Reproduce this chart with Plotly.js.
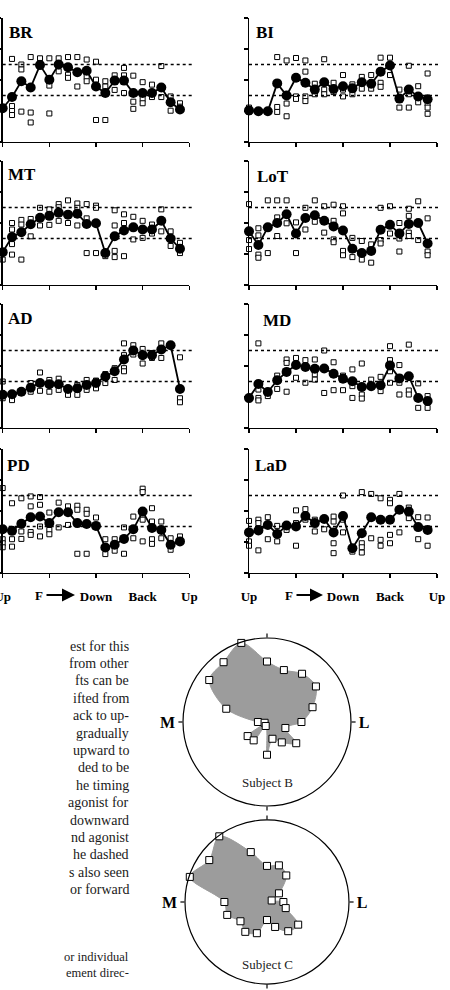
<!DOCTYPE html>
<html>
<head>
<meta charset="utf-8">
<script src="https://cdn.plot.ly/plotly-3.0.1.min.js"></script>
<style>html,body{margin:0;padding:0;background:#fff;}#chart{width:450px;height:990px;}</style>
</head>
<body>
<div id="chart"></div>
<script>
// ---------------- DATA ----------------
const directions = [0,18,36,54,72,90,108,126,144,162,180,198,216,234,252,270,288,306,324,342];
const xTickVals = [0,90,180,270,360];
const xTickLabels = ['Up','','Down','Back','Up'];
const thresholds = [1.5, 2.5];
const muscleNames = ['BR','BI','MT','LoT','AD','MD','PD','LaD'];

const brMean = [1.09,1.45,1.96,1.76,2.48,2.01,2.5,2.41,2.25,2.3,1.79,1.58,1.98,1.98,1.58,1.58,1.58,1.76,1.28,1.05];
const brTrials = [[],[2.68,1.16,1.0,0.87],[2.5,2.34,0.98],[2.74,0.95,0.63],[2.7,2.55],[2.7,1.82,0.92],[2.7,2.28],[2.74,2.17,2.07],[2.74,1.79],[2.66,2.1,1.96],[2.59,2.01,0.71],[1.96,1.79,0.71],[2.15,1.68],[2.39,2.15,1.58],[2.14,1.3,1.07],[1.93,1.39,1.25],[1.85,1.45],[2.45,1.45],[1.47,1.01],[1.25,1.14]];

const biMean = [1.02,0.99,0.99,1.89,1.5,2.07,1.91,1.69,1.93,1.71,1.8,1.73,1.93,1.88,2.27,2.47,1.4,1.69,1.47,1.38];
const biTrials = [[1.11,0.97],[],[],[2.74,1.13,0.97],[2.63,1.24,0.83],[2.71,1.47,1.39],[2.63,2.27,1.47,1.32],[1.88,1.54],[2.67,1.69,1.54],[1.91,1.61],[2.16,1.69,1.47],[1.86,1.54],[2.1,1.72],[2.16,1.72],[2.72,1.91,1.78],[2.72,2.16],[1.69,1.11],[2.46,1.54,1.11],[1.8,1.28],[2.21,1.24,1.11,0.91]];

const mtMean = [1.06,1.55,1.7,1.96,2.17,2.23,2.33,2.27,2.3,1.97,1.99,1.03,1.57,1.76,1.86,1.79,1.79,2.07,1.5,1.17];
const mtTrials = [[0.82],[2.0,1.79,1.32,0.98],[2.1,1.95,0.82],[2.13,1.57],[2.49,1.92],[2.44,1.94],[2.61,2.51,2.07],[2.73,2.0],[2.63,2.49,1.92],[2.61,2.15,1.03],[2.56,2.49,1.03],[0.93],[2.41,1.92,1.1,0.9],[2.28,2.0,0.93],[2.2,1.47],[2.07,1.52],[1.95,1.66],[2.44,1.73],[1.73,1.26],[1.36,1.03]];

const lotMean = [1.73,1.29,1.86,2.0,2.28,1.66,2.16,2.25,2.07,1.89,1.76,1.17,1.03,1.1,1.78,1.94,1.66,1.97,2.0,1.34];
const lotTrials = [[2.61,1.45,1.16],[1.83,1.6,0.98,0.88],[2.73,1.03],[2.73,2.18,1.58],[2.73,1.99],[2.02,1.03],[2.49,1.79],[2.73,2.04],[2.54,1.69],[2.59,2.07,1.47,1.38],[2.54,2.31,1.1,0.96],[1.52,0.9],[1.42,0.82],[1.31,0.72],[2.49,1.45,1.34],[2.54,1.66],[2.0,1.5,1.08],[2.46,2.23,1.69,1.58],[2.7,1.45],[2.15,1.08,0.96]];

const adMean = [1.07,1.09,1.17,1.3,1.45,1.41,1.41,1.26,1.28,1.39,1.45,1.66,1.83,2.21,2.5,2.35,2.35,2.53,2.67,1.26];
const adTrials = [[1.5,0.96],[0.9],[],[1.45,1.17],[1.79,1.2],[1.55,1.17],[1.59,1.23],[1.07],[1.39,1.07],[1.55,1.23],[1.53,1.28],[1.74,1.45],[1.93,1.55],[2.73,2.35,1.93,1.83],[2.67,2.37],[2.55,2.08],[2.42,2.26],[2.73,2.26],[],[2.28,0.96,0.83]];

const mdMean = [0.97,1.42,1.16,1.54,1.81,2.03,1.97,1.91,1.92,1.75,1.59,1.51,1.32,1.35,1.38,2.02,1.6,1.67,0.97,0.87];
const mdTrials = [[0.92],[2.73,1.24,0.97,0.89],[1.03],[1.69,1.26],[2.21,2.1,1.17],[2.26,1.62],[2.19,1.46],[2.21,1.73,1.56],[2.5,1.13],[2.12,1.22],[1.69,1.22],[1.89,1.35,0.97],[2.08,1.08,0.95],[1.56],[1.65,1.19],[2.64,2.19,1.83,1.46],[2.03,1.46,1.08],[2.69,1.21,1.08],[1.44,0.65],[1.03,0.65]];

const pdMean = [1.41,1.36,1.59,1.8,1.82,1.61,1.96,1.96,1.61,1.58,1.52,0.82,0.91,1.1,1.41,1.98,1.45,1.39,0.91,1.02];
const pdTrials = [[2.74,1.09,0.96,0.83],[2.25,1.09,0.85],[2.41,1.34,1.1],[2.47,2.15,1.32,1.23],[2.45,2.2,1.5,1.18],[1.95,1.39,1.25],[2.27,1.47],[2.15,1.55],[2.17,2.04,0.62],[2.04,1.91,0.62],[1.79],[1.09,0.61],[1.09,0.72],[1.47,0.62],[1.82,1.12],[2.72,2.61,1.72,1.02],[2.09,1.66,1.09,0.94],[1.66,1.12],[1.12,0.75],[1.18]];

const ladMean = [1.31,1.37,1.55,1.26,1.53,1.5,1.84,1.61,1.74,1.31,1.84,0.8,1.28,1.8,1.72,1.72,2.04,1.98,1.48,1.39];
const ladTrials = [[1.68,1.02,0.88],[1.72,1.61,0.73],[1.8,1.09],[1.52,1.02],[1.55,1.39],[2.02,1.61,0.88],[2.06,1.72],[1.72,1.34],[1.41],[1.82,1.66,0.96,0.64],[2.5,1.72,1.31],[0.69],[2.61,0.96,0.83,0.66],[2.55,1.12],[2.41,1.07,0.88],[2.36,2.25,1.23,0.96],[2.55,1.31],[2.11,1.77],[1.8,1.09],[1.79,0.88]];

const subjectBR = [0.41,0.57,0.72,0.71,0.65,0.72,0.99,0.88,0.85,0.51,0.108,0.03,0.285,0.27,0.05,0.39,0.21,0.30,0.43,0.23];
const subjectCR = [0.20,0.06,0.18,0.40,0.47,0.44,0.64,0.99,0.87,0.99,0.52,0.51,0.40,0.45,0.40,0.22,0.32,0.44,0.47,0.24];
const polarTickVals = [0,90,180,270];
const polarTickText = ['L','','M',''];
const subjectLabels = ['Subject B','Subject C'];

const paragraphLines = ['est for this','from other','fts can be','ifted from','ack to up-','gradually','upward to','ded to be','he timing','agonist for','downward','nd agonist','he dashed','s also seen','or forward'];
const captionLines = ['or individual','ement direc-'];

// ---------------- BUILD ----------------
const W = 450, H = 990;
const px = v => v / W;
const py = v => 1 - v / H;

const means = [brMean, biMean, mtMean, lotMean, adMean, mdMean, pdMean, ladMean];
const trials = [brTrials, biTrials, mtTrials, lotTrials, adTrials, mdTrials, pdTrials, ladTrials];

const colX = [[2.7, 189.3], [249, 437]];
const rowBottom = [142, 285, 428, 573];
const rowH = 124;
const labelPos = [[7,33],[254,33],[6,174],[255,176],[6,319],[261,320],[5,465],[253,465]];

const serif = 'Liberation Serif, Times New Roman, serif';
const traces = [];
const layout = {
  width: W, height: H, margin: {l:0, r:0, t:0, b:0},
  paper_bgcolor: '#fff', plot_bgcolor: 'rgba(0,0,0,0)',
  showlegend: false, shapes: [], annotations: []
};

muscleNames.forEach((name, i) => {
  const col = i % 2, row = Math.floor(i / 2);
  const sfx = i === 0 ? '' : String(i + 1);
  const xa = 'x' + sfx, ya = 'y' + sfx;
  const tx = [], ty = [];
  trials[i].forEach((vals, k) => vals.forEach(v => { tx.push(directions[k]); ty.push(v); }));
  traces.push({
    type: 'scatter', mode: 'markers', x: tx, y: ty, xaxis: xa, yaxis: ya, cliponaxis: false,
    marker: {symbol: 'square', size: 5, color: '#fff', line: {color: '#000', width: 1}}, hoverinfo: 'skip'
  });
  traces.push({
    type: 'scatter', mode: 'lines+markers', x: directions, y: means[i], xaxis: xa, yaxis: ya, cliponaxis: false,
    line: {color: '#000', width: 1.8}, marker: {symbol: 'circle', size: 10, color: '#000'}, hoverinfo: 'skip'
  });
  const bottom = rowBottom[row];
  layout['xaxis' + sfx] = {
    domain: [px(colX[col][0]), px(colX[col][1])], anchor: ya, range: [0, 360],
    showline: true, linecolor: '#000', linewidth: 1.3, showgrid: false, zeroline: false,
    ticks: 'outside', ticklen: 4, tickwidth: 1.3, tickcolor: '#000',
    tickvals: xTickVals, ticktext: xTickLabels, showticklabels: row === 3,
    ticklabelstandoff: 7, ticklabeloverflow: 'allow',
    tickfont: {family: serif, size: 13, color: '#000', weight: 'bold'}
  };
  layout['yaxis' + sfx] = {
    domain: [py(bottom), py(bottom - rowH)], anchor: xa, range: [0, 4],
    showline: true, linecolor: '#000', linewidth: 1.3, showgrid: false, zeroline: false,
    ticks: 'outside', ticklen: 4, tickwidth: 1.3, tickcolor: '#000',
    tickvals: [0,1,2,3,4], showticklabels: false
  };
  thresholds.forEach(t => {
    layout.shapes.push({type: 'line', xref: xa + ' domain', yref: ya, x0: 0, x1: 1.015, y0: t, y1: t,
      line: {color: '#000', width: 1.5, dash: 'dot'}});
  });
  layout.annotations.push({xref: 'paper', yref: 'paper', x: px(labelPos[i][0]), y: py(labelPos[i][1]),
    xanchor: 'left', yanchor: 'middle', showarrow: false, text: '<b>' + name + '</b>',
    font: {family: serif, size: 17, color: '#000'}});
  if (row === 3) {
    const headX = col === 0 ? 75 : 323;
    const fX = col === 0 ? 39 : 289;
    layout.annotations.push({xref: 'paper', yref: 'paper', x: px(headX), y: py(595),
      ax: fX - headX, ay: 0, text: '<b>F</b>', showarrow: true, arrowhead: 2, arrowsize: 1.3, arrowwidth: 2,
      arrowcolor: '#000', startstandoff: 2, font: {family: serif, size: 13, color: '#000'}});
  }
});

// Polar plots
const polarDefs = [
  {key: 'polar', r: subjectBR, cx: 267, cy: 722, rad: 84, label: subjectLabels[0], ly: 782},
  {key: 'polar2', r: subjectCR, cx: 267, cy: 902, rad: 82, label: subjectLabels[1], ly: 964}
];
polarDefs.forEach(p => {
  const rr = p.r.concat([p.r[0]]);
  const th = directions.concat([directions[0]]);
  traces.push({
    type: 'scatterpolar', subplot: p.key, r: rr, theta: th, mode: 'lines', fill: 'toself',
    fillcolor: '#9c9c9c', line: {color: '#9c9c9c', width: 1, shape: 'spline', smoothing: 0.9}, hoverinfo: 'skip'
  });
  traces.push({
    type: 'scatterpolar', subplot: p.key, r: p.r, theta: directions, mode: 'markers', cliponaxis: false,
    marker: {symbol: 'square', size: 7, color: '#fff', line: {color: '#000', width: 1}}, hoverinfo: 'skip'
  });
  layout[p.key] = {
    domain: {x: [px(p.cx - p.rad), px(p.cx + p.rad)], y: [py(p.cy + p.rad), py(p.cy - p.rad)]},
    bgcolor: '#fff',
    radialaxis: {visible: false, range: [0, 1], showgrid: false},
    angularaxis: {
      rotation: 0, direction: 'counterclockwise', showgrid: false, showline: true,
      linecolor: '#000', linewidth: 1.2, ticks: 'outside', ticklen: 4, tickwidth: 1.2, tickcolor: '#000',
      tickvals: polarTickVals, ticktext: polarTickText,
      tickfont: {family: serif, size: 16, color: '#000', weight: 'bold'}
    }
  };
  layout.annotations.push({xref: 'paper', yref: 'paper', x: px(p.cx), y: py(p.ly), xanchor: 'center', yanchor: 'middle',
    showarrow: false, text: p.label, font: {family: serif, size: 13, color: '#222'}});
});

// Paragraph text (partial page text)
paragraphLines.forEach((t, k) => {
  layout.annotations.push({xref: 'paper', yref: 'paper', x: px(131), y: py(646 + k * 17.4),
    xanchor: 'right', yanchor: 'middle', align: 'right', showarrow: false, text: t,
    font: {family: serif, size: 14, color: '#1a1a1a'}});
});
captionLines.forEach((t, k) => {
  layout.annotations.push({xref: 'paper', yref: 'paper', x: px(131), y: py(957 + k * 16),
    xanchor: 'right', yanchor: 'middle', align: 'right', showarrow: false, text: t,
    font: {family: serif, size: 12.5, color: '#1a1a1a'}});
});

Plotly.newPlot('chart', traces, layout, {staticPlot: true, displayModeBar: false});
</script>
</body>
</html>
